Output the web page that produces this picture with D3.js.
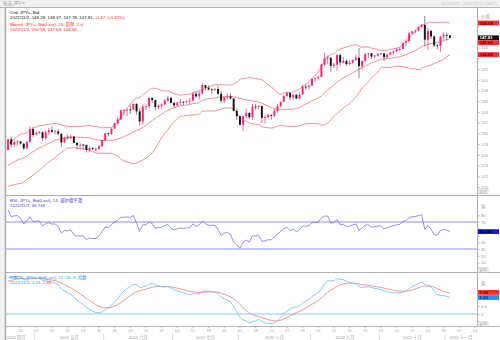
<!DOCTYPE html>
<html><head><meta charset="utf-8">
<script src="https://cdn.jsdelivr.net/npm/d3@7"></script>
<style>
body{margin:0;background:#fff}
svg{display:block}
text{font-family:"Liberation Sans","Noto Sans CJK SC",sans-serif}
</style>
</head><body>
<svg id="chart" width="500" height="340"></svg>
<script>
// JPY= daily closes before the visible window (used to warm up the indicators)
const histClose = [113.9,113.9,114.6,115.4,115.2,115.1,114.7,114.4,114.9,115.2,
  115.1,115.6,115.5,116.0,115.4,115.6,115.6,115.4,114.9,115.0,
  114.7,115.0,115.0,115.5,115.6,115.0,114.9,115.5,115.5,114.8,
  115.3,115.7,115.8,116.1,117.3,118.2,118.3,118.7,118.6,119.2,
  119.4,120.8,121.2,122.3,122.1,123.8,122.8,121.8,121.7,122.5,
  122.8,123.6,123.8,123.9,124.3,125.4,125.4,125.6,125.9,126.4,126.9];

// Visible daily bars, 2022/4/19 .. 2022/11/2 (one value per trading day, one row per week)
const open = [126.9,128.9,127.9,128.4,
  128.5,128.1,127.2,128.4,130.8,
  129.8,130.1,130.2,129.1,130.2,
  130.6,130.3,130.4,129.9,128.3,
  129.2,129.1,129.4,128.2,127.8,
  127.9,127.85,126.9,127.3,127.1,
  127.15,127.6,128.7,130.0,129.9,
  130.9,131.9,132.6,134.3,134.35,
  134.45,134.4,135.5,134.1,132.2,
  135.0,135.1,136.6,136.2,134.9,
  135.2,135.4,136.1,136.6,135.7,
  135.2,135.7,135.9,135.85,136.0,
  136.1,137.4,136.9,137.4,139.0,
  138.5,138.2,138.15,138.25,137.4,
  136.1,136.7,136.9,136.5,134.2,
  133.2,131.6,133.2,133.8,133.0,
  135.0,134.95,135.1,132.9,133.0,
  133.4,133.3,134.2,135.1,135.9,
  137.0,137.5,136.7,137.18,136.5,
  137.2,138.7,138.65,138.9,140.2,
  140.25,140.5,142.8,144.0,144.1,
  142.6,142.8,144.6,143.23,143.5,
  142.9,143.2,143.7,144.1,142.52,
  143.52,144.82,144.92,144.32,144.52,
  144.82,144.92,144.22,144.72,145.1,
  145.3,145.7,145.72,146.9,147.2,
  148.62,149.0,149.17,149.87,150.2,
  147.48,149.08,148.08,146.4,146.3,
  148.03,148.37,148.28];
const high = [129.0,129.4,128.7,128.8,
  128.6,128.1,128.6,131.3,131.2,
  130.4,130.4,130.3,130.5,131.0,
  131.3,130.5,130.8,130.0,129.4,
  129.7,129.7,129.5,128.5,128.2,
  128.0,127.9,127.5,127.4,127.3,
  127.9,128.8,130.1,130.2,130.9,
  132.0,133.0,134.5,134.5,134.6,
  135.2,135.6,135.6,134.7,135.4,
  135.4,136.7,136.7,136.3,135.4,
  135.6,136.4,137.0,136.9,135.9,
  135.9,136.4,136.0,136.2,136.6,
  137.7,137.8,137.9,139.4,139.0,
  138.9,138.4,138.4,138.9,137.9,
  136.8,137.5,137.5,136.6,134.6,
  133.3,133.2,134.6,134.0,135.5,
  135.5,135.3,135.2,133.4,133.7,
  133.6,134.6,135.5,135.9,137.1,
  137.7,137.7,137.4,137.4,137.6,
  139.0,139.1,139.1,140.2,140.4,
  140.8,143.0,145.0,144.5,144.2,
  143.2,144.7,144.9,144.2,143.8,
  143.6,143.8,144.7,145.9,143.5,
  144.9,145.0,145.0,144.6,144.9,
  145.0,145.0,144.8,145.2,145.4,
  145.9,146.0,146.9,147.6,148.9,
  149.1,149.3,149.9,150.3,151.9,
  149.7,149.3,148.3,146.7,148.2,
  148.8,148.8,148.37];
const low = [126.9,127.4,127.4,127.8,
  127.9,126.9,127.1,128.3,129.3,
  129.6,129.9,128.6,128.8,129.8,
  130.1,129.8,129.6,127.5,128.2,
  128.9,128.9,128.1,127.0,127.0,
  127.0,126.4,126.5,126.9,126.6,
  126.9,127.5,128.6,129.5,129.7,
  130.8,131.5,132.5,133.4,133.2,
  133.6,134.4,133.5,131.5,131.6,
  134.3,134.7,135.6,134.3,134.5,
  134.5,135.2,135.9,135.5,134.7,
  135.1,135.3,135.3,135.6,135.5,
  136.0,136.6,136.3,137.3,138.0,
  138.0,137.4,137.9,137.2,135.6,
  135.6,136.4,136.3,134.1,132.5,
  131.5,130.4,132.8,132.7,132.5,
  134.4,134.4,132.0,131.8,132.8,
  132.6,133.0,133.9,134.9,135.8,
  136.8,136.2,136.3,136.4,136.3,
  137.2,138.2,138.3,138.8,139.6,
  139.9,140.5,142.6,143.0,141.5,
  142.2,141.7,142.6,143.0,142.6,
  142.7,143.0,143.5,140.3,141.7,
  143.3,144.1,143.9,144.0,144.3,
  144.6,143.5,143.9,144.5,144.7,
  145.2,145.3,145.7,146.3,147.1,
  148.5,148.7,149.0,149.7,146.2,
  145.5,147.6,146.1,145.7,145.2,
  147.4,147.3,147.78];
const close = [128.9,127.9,128.4,128.5,
  128.1,127.2,128.4,130.8,129.7,
  130.1,130.2,129.1,130.2,130.6,
  130.3,130.4,129.9,128.3,129.2,
  129.1,129.4,128.2,127.8,127.9,
  127.85,126.9,127.3,127.1,127.15,
  127.6,128.7,130.0,129.9,130.9,
  131.9,132.6,134.3,134.35,134.45,
  134.4,135.5,134.1,132.2,135.0,
  135.1,136.6,136.2,134.9,135.2,
  135.4,136.1,136.6,135.7,135.2,
  135.7,135.9,135.85,136.0,136.1,
  137.4,136.9,137.4,139.0,138.5,
  138.2,138.15,138.25,137.4,136.1,
  136.7,136.9,136.5,134.2,133.2,
  131.6,133.2,133.8,133.0,135.0,
  134.95,135.1,132.9,133.0,133.4,
  133.3,134.2,135.1,135.9,137.0,
  137.5,136.7,137.18,136.5,137.2,
  138.7,138.65,138.9,140.2,140.25,
  140.5,142.8,144.0,144.1,142.6,
  142.8,144.6,143.23,143.5,142.9,
  143.2,143.7,144.1,142.52,143.52,
  144.82,144.92,144.32,144.52,144.82,
  144.92,144.22,144.72,145.1,145.3,
  145.7,145.72,146.9,147.2,148.62,
  149.0,149.17,149.87,150.2,147.48,
  149.08,148.08,146.4,146.3,148.03,
  148.37,148.28,147.81];

const priceTicks = [120,122,124,126,128,130,132,134,136,138,140,142,144,146,148,150];
const rsiTicks = [10,20,30,40,50,60,70,80];
const macdTicks = [0,0.5];
const monthNames = ["四月","五月","六月","七月","八月","九月","十月","十一月"];

// ---- calendar: weekdays from the first bar to the right edge of the axis
const fmtKey = d3.timeFormat("%Y-%m-%d");
const weekdays = d3.timeDay.range(new Date(2022,3,19), new Date(2022,10,15)).filter(d => d.getDay() > 0 && d.getDay() < 6);
const allKeys = weekdays.map(fmtKey);
const n = close.length;
const dates = allKeys.slice(0, n);

// ---- indicators: Bollinger(20, 2.0), RSI(14, Wilder), MACD(12, 26, 9)
const allClose = histClose.concat(close);
const off = histClose.length;
const bb = close.map((c, i) => {
  const w = allClose.slice(off + i - 19, off + i + 1);
  const m = d3.mean(w);
  const sd = Math.sqrt(d3.mean(w, v => (v - m) ** 2));
  return {m, u: m + 2 * sd, l: m - 2 * sd};
});
const rsiAll = [];
let ag = 0, al = 0;
for (let k = 1; k < allClose.length; k++) {
  const d = allClose[k] - allClose[k - 1];
  const g = Math.max(d, 0), l = Math.max(-d, 0);
  if (k <= 14) { ag += g / 14; al += l / 14; }
  else { ag = (ag * 13 + g) / 14; al = (al * 13 + l) / 14; }
  rsiAll[k] = k >= 14 ? 100 - 100 / (1 + ag / al) : null;
}
const rsi = close.map((c, i) => rsiAll[off + i]);
function ema(arr, p) {
  const a = 2 / (p + 1), out = [];
  arr.forEach((v, i) => out.push(i ? out[i - 1] + a * (v - out[i - 1]) : v));
  return out;
}
const e12 = ema(allClose, 12), e26 = ema(allClose, 26);
const macdAll = e12.map((v, i) => v - e26[i]);
const sigAll = ema(macdAll, 9);
const macd = close.map((c, i) => macdAll[off + i]);
const signal = close.map((c, i) => sigAll[off + i]);

// ---- scales
const x = d3.scaleBand().domain(allKeys).range([6.5, 476.5]);
const xc = k => x(k) + x.bandwidth() / 2;
const yP = d3.scaleLinear().domain([120, 142]).range([187, 69]);
const yR = d3.scaleLinear().domain([30, 70]).range([249, 222]);
const yM = d3.scaleLinear().domain([0, 0.5]).range([314, 306]);

const AX = 477;
const svg = d3.select("#chart");
svg.append("rect").attr("width", 500).attr("height", 340).attr("fill", "#f1f1f1");
svg.append("rect").attr("x", 6).attr("y", 8).attr("width", 494).attr("height", 332).attr("fill", "#fff");
svg.append("line").attr("x1", 0).attr("x2", 500).attr("y1", 7.5).attr("y2", 7.5).attr("stroke", "#b5b5b5").attr("stroke-width", 1);
svg.append("line").attr("x1", 5.5).attr("x2", 5.5).attr("y1", 8).attr("y2", 340).attr("stroke", "#a8a8a8").attr("stroke-width", 1.5);

svg.append("text").attr("x", 3).attr("y", 5.3).attr("font-size", 4.6).attr("fill", "#9a9a9a").text("每天  JPY=");
svg.append("text").attr("x", 497).attr("y", 5.3).attr("font-size", 4.2).attr("fill", "#c4c4c4").attr("text-anchor", "end").text("2022/4/19 - 2022/11/14 (GMT)");

// panel separators and axis frame
[195.5, 272.5].forEach(y => svg.append("line").attr("x1", 6).attr("x2", 500).attr("y1", y).attr("y2", y).attr("stroke", "#b0b0b0").attr("stroke-width", 1));
svg.append("line").attr("x1", 6).attr("x2", 500).attr("y1", 326.5).attr("y2", 326.5).attr("stroke", "#b8b8b8").attr("stroke-width", 1);
svg.append("line").attr("x1", AX + 0.5).attr("x2", AX + 0.5).attr("y1", 8).attr("y2", 327).attr("stroke", "#b0b0b0").attr("stroke-width", 1);

const defs = svg.append("defs");
function clip(id, y0, y1) {
  defs.append("clipPath").attr("id", id).append("rect").attr("x", 6).attr("y", y0).attr("width", AX - 6).attr("height", y1 - y0);
  return svg.append("g").attr("clip-path", `url(#${id})`);
}

// ---- price panel: Bollinger bands under the candles
const gP = clip("cp", 8, 195);
const UP = "#ff2278", DOWN = "#151515";
const bandLine = key => d3.line().x((d, i) => xc(dates[i])).y(d => yP(d[key])).curve(d3.curveMonotoneX);
["u", "m", "l"].forEach(k => gP.append("path").datum(bb).attr("d", bandLine(k)).attr("fill", "none").attr("stroke", "#f3837f").attr("stroke-width", 0.9));
const bw = Math.max(1.6, x.bandwidth() * 0.62);
const idx = d3.range(n);
gP.selectAll(".wick").data(idx).join("line")
  .attr("x1", i => xc(dates[i])).attr("x2", i => xc(dates[i]))
  .attr("y1", i => yP(high[i])).attr("y2", i => yP(low[i]))
  .attr("stroke", i => close[i] >= open[i] ? UP : "#555").attr("stroke-width", 0.7);
gP.selectAll(".body").data(idx).join("rect")
  .attr("x", i => xc(dates[i]) - bw / 2).attr("width", bw)
  .attr("y", i => yP(Math.max(open[i], close[i])))
  .attr("height", i => Math.max(0.8, Math.abs(yP(open[i]) - yP(close[i]))))
  .attr("fill", i => close[i] >= open[i] ? UP : DOWN);

// ---- RSI panel
const gR = clip("cr", 196, 272);
[70, 30].forEach(v => gR.append("line").attr("x1", 6).attr("x2", AX).attr("y1", yR(v)).attr("y2", yR(v)).attr("stroke", "#8e8ef2").attr("stroke-width", 1.1));
gR.append("path").datum(rsi).attr("d", d3.line().x((d, i) => xc(dates[i])).y(d => yR(d))).attr("fill", "none").attr("stroke", "#7474ec").attr("stroke-width", 0.8);

// ---- MACD panel
const gM = clip("cm", 273, 326);
gM.append("line").attr("x1", 6).attr("x2", AX).attr("y1", yM(0)).attr("y2", yM(0)).attr("stroke", "#acdcfa").attr("stroke-width", 1.4);
const mLine = d3.line().x((d, i) => xc(dates[i])).y(d => yM(d)).curve(d3.curveMonotoneX);
gM.append("path").datum(signal).attr("d", mLine).attr("fill", "none").attr("stroke", "#f38a86").attr("stroke-width", 0.9);
gM.append("path").datum(macd).attr("d", mLine).attr("fill", "none").attr("stroke", "#72c3f6").attr("stroke-width", 0.9);

// ---- last-value markers on the right axis, stacked so they do not collide
const last = n - 1;
const bLast = bb[last];
function stack(list) {
  list.sort((a, b) => a.y - b.y);
  for (let i = 1; i < list.length; i++) if (list[i].y - list[i - 1].y < 4.8) list[i].y = list[i - 1].y + 4.8;
  return list;
}
const RED = "#ff2a2a", RED_T = "#5a0000";
const priceBoxes = stack([
  {y: yP(bLast.u), t: bLast.u.toFixed(2), bg: RED, fg: RED_T},
  {y: yP(close[last]), t: close[last].toFixed(2), bg: "#111", fg: "#fff"},
  {y: yP(bLast.m) + 0.1, t: bLast.m.toFixed(2), bg: RED, fg: RED_T},
  {y: yP(bLast.l), t: bLast.l.toFixed(2), bg: RED, fg: RED_T}
]);
const rsiBoxes = [{y: yR(rsi[last]), t: rsi[last].toFixed(3), bg: "#1515ee", fg: "#000"}];
const macdBoxes = stack([
  {y: yM(signal[last]) - 0.8, t: signal[last].toFixed(2), bg: RED, fg: RED_T},
  {y: yM(macd[last]), t: macd[last].toFixed(2), bg: "#1e96ff", fg: "#002050"}
]);

// ---- right axes (labels hidden where a marker covers them)
function rightAxis(scale, ticks, fmt, boxes) {
  const shown = ticks.filter(v => boxes.every(b => Math.abs(scale(v) - b.y) > 4.2));
  const g = svg.append("g").attr("transform", `translate(${AX},0)`)
    .call(d3.axisRight(scale).tickValues(ticks).tickSize(2.5).tickPadding(1.5).tickFormat(v => shown.includes(v) ? fmt(v) : ""));
  g.select(".domain").remove();
  g.selectAll("line").attr("stroke", "#b5b5b5");
  g.selectAll("text").attr("font-size", 4.2).attr("fill", "#9c9c9c").attr("font-family", "Liberation Sans");
}
rightAxis(yP, priceTicks, d3.format("d"), priceBoxes);
rightAxis(yR, rsiTicks, d3.format("d"), rsiBoxes);
rightAxis(yM, macdTicks, d3.format("~g"), macdBoxes);

function drawBoxes(list) {
  list.forEach(b => {
    svg.append("rect").attr("x", 478).attr("y", b.y - 2.4).attr("width", 21).attr("height", 4.8).attr("fill", b.bg);
    svg.append("text").attr("x", 479.5).attr("y", b.y + 1.6).attr("font-size", 4.3).attr("fill", b.fg).attr("font-weight", "bold").text(b.t);
  });
}
drawBoxes(priceBoxes);
drawBoxes(rsiBoxes);
drawBoxes(macdBoxes);

function axisNote(y, t) {
  svg.append("text").attr("x", 481).attr("y", y).attr("font-size", 4.4).attr("fill", "#a0a0a0").text(t);
}
axisNote(17.5, "价格");
axisNote(207.5, "值");
axisNote(284.5, "值");

function autoBtn(y) {
  svg.append("rect").attr("x", 478).attr("y", y).attr("width", 10).attr("height", 4.6).attr("fill", "#f4f4f4").attr("stroke", "#c8c8c8").attr("stroke-width", 0.5);
  svg.append("text").attr("x", 483).attr("y", y + 3.7).attr("font-size", 3.8).attr("fill", "#a8a8a8").attr("text-anchor", "middle").text("自动");
}
autoBtn(189);
autoBtn(267.5);
autoBtn(321.5);

// ---- legends
const fmtDate = d3.timeFormat("%Y/%-m/%-d");
const lastDate = fmtDate(weekdays[last]);
function legend(y, parts) {
  const t = svg.append("text").attr("x", 10).attr("y", y).attr("font-size", 4.4);
  parts.forEach(([s, c]) => t.append("tspan").attr("fill", c).text(s));
}
const chg = close[last] - close[last - 1];
legend(13.8, [["Ord, JPY=, Bid", "#111"]]);
legend(19.2, [[`${lastDate}, ${open[last].toFixed(2)}, ${high[last].toFixed(2)}, ${low[last].toFixed(2)}, ${close[last].toFixed(2)}, `, "#111"],
  [`${chg.toFixed(2)}, (${(chg / close[last - 1] * 100).toFixed(2)}%)`, "#ff2020"]]);
legend(25.6, [["Bband, JPY=, Bid(Last), 20, 简单, 2.0", "#ff2020"]]);
legend(31.0, [[`${lastDate}, ${bLast.u.toFixed(2)}, ${bLast.m.toFixed(2)}, ${bLast.l.toFixed(2)}`, "#ff2020"]]);
legend(202, [["RSI, JPY=, Bid(Last), 14, 威尔德平滑", "#3b3bd0"]]);
legend(207.2, [[`${lastDate}, ${rsi[last].toFixed(3)}`, "#3b3bd0"]]);
legend(278.8, [["MACD, JPY=, Bid(Last), 12, 26, 9, 指数", "#2a9ae8"]]);
legend(284, [[`${lastDate}, ${macd[last].toFixed(2)}, `, "#2a9ae8"], [signal[last].toFixed(2), "#ff2020"]]);

// ---- date axis: Mondays, then month bands
const mondays = allKeys.filter((k, i) => weekdays[i].getDay() === 1);
const gx = svg.append("g").attr("transform", "translate(0,326.5)")
  .call(d3.axisBottom(x).tickValues(mondays).tickSize(1.5).tickPadding(1.2).tickFormat(k => k.slice(8)));
gx.select(".domain").remove();
gx.selectAll("line").attr("stroke", "#c0c0c0");
gx.selectAll("text").attr("font-size", 4).attr("fill", "#a8a8a8").attr("font-family", "Liberation Sans");

const months = d3.groups(allKeys, k => +k.slice(5, 7));
months.forEach(([m, ks], j) => {
  const x0 = x(ks[0]), x1 = x(ks[ks.length - 1]) + x.bandwidth();
  if (j > 0) svg.append("line").attr("x1", x0).attr("x2", x0).attr("y1", 333.5).attr("y2", 340).attr("stroke", "#c8c8c8").attr("stroke-width", 0.6);
  svg.append("text").attr("x", j === 0 ? 16 : (x0 + x1) / 2).attr("y", 338.6).attr("font-size", 4.2).attr("fill", "#a0a0a0")
    .attr("text-anchor", "middle").text(`2022 ${monthNames[m - 4]}`);
});
</script>
</body></html>
